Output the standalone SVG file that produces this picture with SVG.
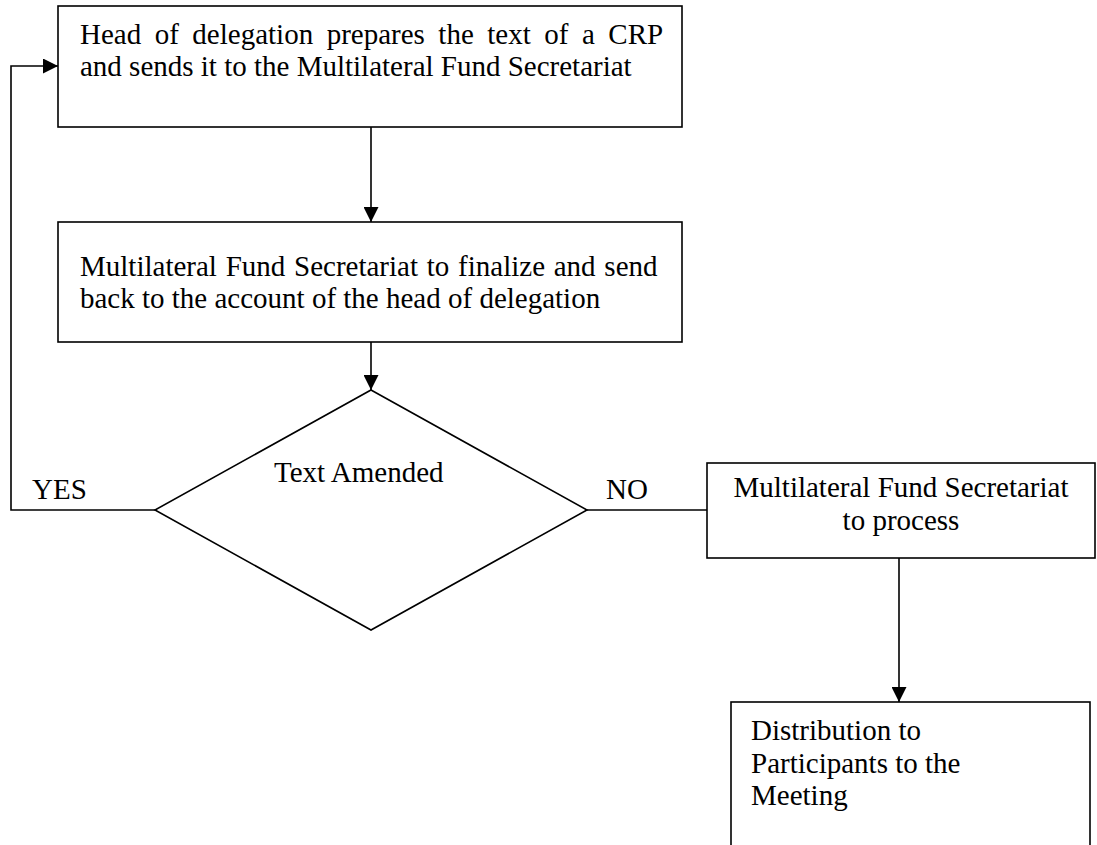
<svg xmlns="http://www.w3.org/2000/svg" width="1097" height="845" viewBox="0 0 1097 845">
<style>
.box{fill:#fff;stroke:#000;stroke-width:1.6}
.ln{fill:none;stroke:#000;stroke-width:1.6}
text{font-family:"Liberation Serif","Times New Roman",serif;font-size:29px;fill:#000}
</style>
<defs>
<marker id="ah" viewBox="0 0 15 15" refX="15" refY="7.5" markerWidth="15" markerHeight="15" markerUnits="userSpaceOnUse" orient="auto">
<path d="M0,0 L15,7.5 L0,15 Z" fill="#000"/>
</marker>
</defs>
<rect width="1097" height="845" fill="#fff"/>
<g id="connectors">
<line class="ln" x1="371" y1="127" x2="371" y2="222" marker-end="url(#ah)"/>
<line class="ln" x1="371" y1="342" x2="371" y2="390" marker-end="url(#ah)"/>
<polyline class="ln" points="155,510 11,510 11,66 58,66" marker-end="url(#ah)"/>
<line class="ln" x1="587" y1="510" x2="707" y2="510"/>
<line class="ln" x1="899" y1="558" x2="899" y2="702" marker-end="url(#ah)"/>
<text x="32" y="499">YES</text>
<text x="606" y="499">NO</text>
</g>
<g id="node-prepare">
<rect class="box" x="58" y="6" width="624" height="121"/>
<text x="80" y="44" word-spacing="6.25">Head of delegation prepares the text of a CRP</text>
<text x="80" y="76">and sends it to the Multilateral Fund Secretariat</text>
</g>
<g id="node-finalize">
<rect class="box" x="58" y="222" width="624" height="120"/>
<text x="80" y="276" word-spacing="1.5">Multilateral Fund Secretariat to finalize and send</text>
<text x="80" y="308">back to the account of the head of delegation</text>
</g>
<g id="node-decision">
<polygon class="box" points="371,390 587,510 371,630 155,510"/>
<text x="274" y="482">Text Amended</text>
</g>
<g id="node-process">
<rect class="box" x="707" y="463" width="388" height="95"/>
<text x="901" y="497" text-anchor="middle">Multilateral Fund Secretariat</text>
<text x="901" y="530" text-anchor="middle">to process</text>
</g>
<g id="node-distribution">
<rect class="box" x="731" y="702" width="359" height="160"/>
<text x="751" y="740">Distribution to</text>
<text x="751" y="773">Participants to the</text>
<text x="751" y="805">Meeting</text>
</g>
</svg>
